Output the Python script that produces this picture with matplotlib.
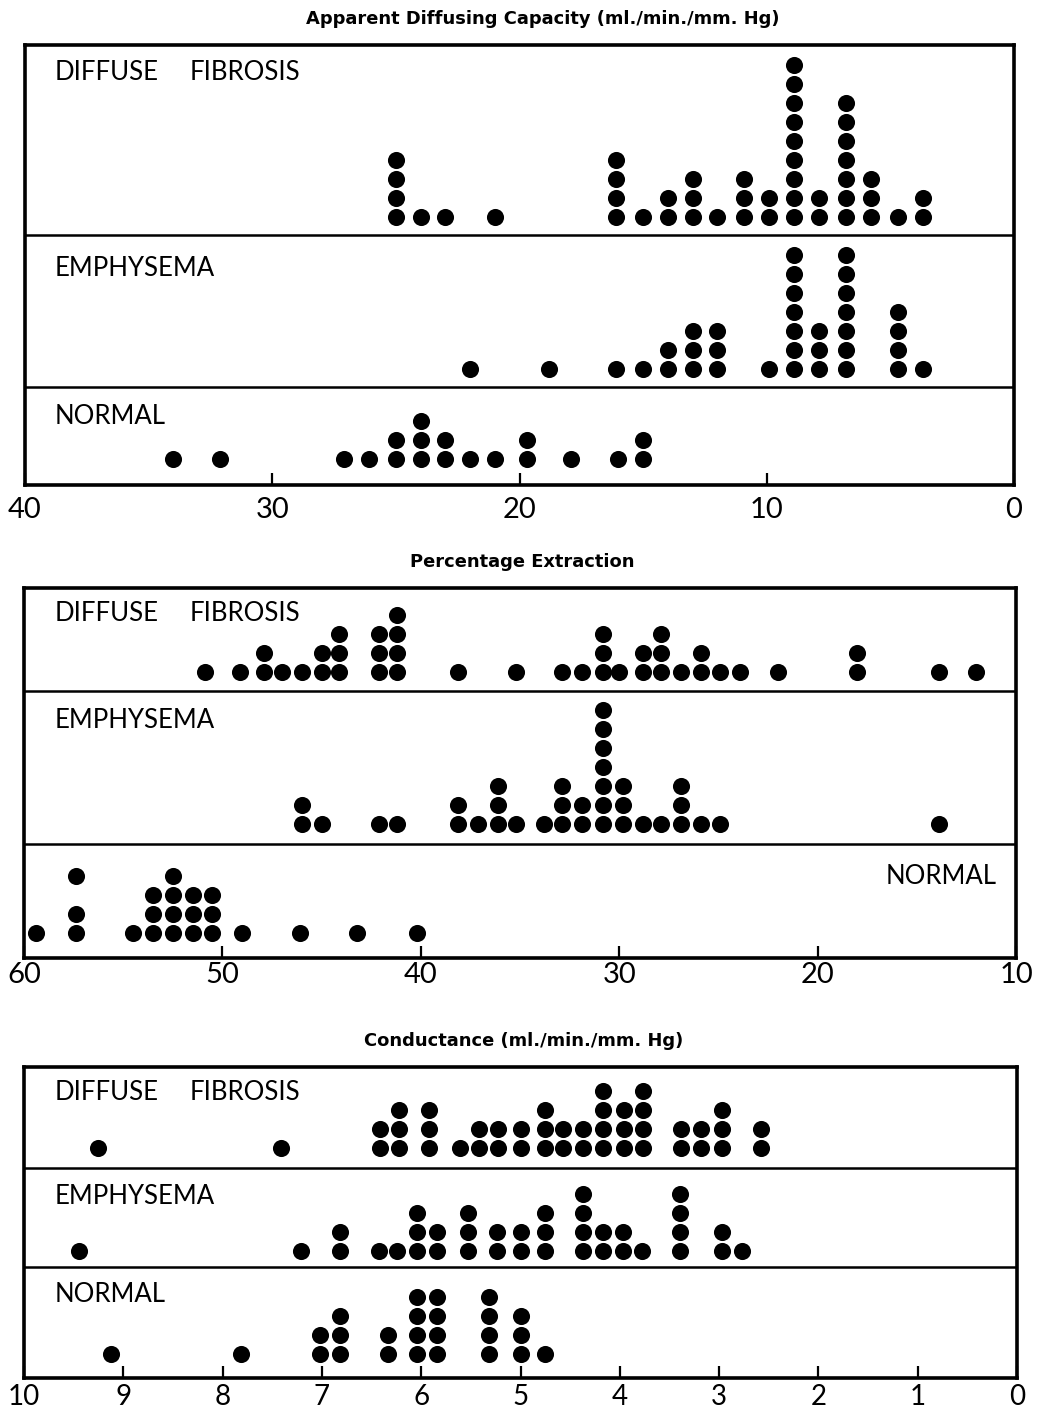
import matplotlib
matplotlib.use('Agg')
import matplotlib.pyplot as plt

# ---------------- DATA ----------------
# Panel 1: Apparent Diffusing Capacity (ml./min./mm. Hg)
DC_FIB_X = [25.0, 24.0, 23.0, 21.0, 16.1, 15.0, 14.0, 13.0, 12.0, 10.9, 9.9, 8.9, 7.9, 6.8, 5.8, 4.7, 3.7]
DC_FIB_N = [4, 1, 1, 1, 4, 1, 2, 3, 1, 3, 2, 9, 2, 7, 3, 1, 2]
DC_EMP_X = [22.0, 18.8, 16.1, 15.0, 14.0, 13.0, 12.0, 9.9, 8.9, 7.9, 6.8, 4.7, 3.7]
DC_EMP_N = [1, 1, 1, 1, 2, 3, 3, 1, 7, 3, 7, 4, 1]
DC_NOR_X = [34.0, 32.1, 27.1, 26.1, 25.0, 24.0, 23.0, 22.0, 21.0, 19.7, 17.9, 16.0, 15.0]
DC_NOR_N = [1, 1, 1, 1, 2, 3, 2, 1, 1, 2, 1, 1, 2]

# Panel 2: Percentage Extraction
PE_FIB_X = [50.9, 49.1, 47.9, 47.0, 46.0, 45.0, 44.1, 42.1, 41.2, 38.1, 35.2, 32.9, 31.9, 30.8,
            30.0, 28.8, 27.9, 26.9, 25.9, 24.9, 23.9, 22.0, 18.0, 13.9, 12.0]
PE_FIB_N = [1, 1, 2, 1, 1, 2, 3, 3, 4, 1, 1, 1, 1, 3, 1, 2, 3, 1, 2, 1, 1, 1, 2, 1, 1]
PE_EMP_X = [46.0, 45.0, 42.1, 41.2, 38.1, 37.1, 36.1, 35.2, 33.8, 32.9, 31.9, 30.8, 29.8, 28.8,
            27.9, 26.9, 25.9, 24.9, 13.9]
PE_EMP_N = [2, 1, 1, 1, 2, 1, 3, 1, 1, 3, 2, 7, 3, 1, 1, 3, 1, 1, 1]
PE_NOR_X = [59.4, 57.4, 54.5, 53.5, 52.5, 51.5, 50.5, 49.0, 46.1, 43.2, 40.2]
PE_NOR_N = [1, 3, 1, 3, 4, 3, 3, 1, 1, 1, 1]
PE_NOR_GAPS = [(57.4, 2)]  # (value, empty stack level)

# Panel 3: Conductance (ml./min./mm. Hg)
CO_FIB_X = [9.25, 7.41, 6.41, 6.22, 5.92, 5.61, 5.42, 5.23, 5.0, 4.75, 4.57, 4.37, 4.17, 3.96,
            3.77, 3.38, 3.18, 2.97, 2.58]
CO_FIB_N = [1, 1, 2, 3, 3, 1, 2, 2, 2, 3, 2, 2, 4, 3, 4, 2, 2, 3, 2]
CO_EMP_X = [9.45, 7.21, 6.82, 6.42, 6.24, 6.04, 5.84, 5.53, 5.24, 5.0, 4.75, 4.37, 4.17, 3.97,
            3.78, 3.39, 2.97, 2.77]
CO_EMP_N = [1, 1, 2, 1, 1, 3, 2, 3, 2, 2, 3, 4, 2, 2, 1, 4, 2, 1]
CO_NOR_X = [9.12, 7.81, 7.02, 6.82, 6.33, 6.04, 5.84, 5.32, 5.0, 4.75]
CO_NOR_N = [1, 1, 2, 3, 2, 4, 4, 4, 3, 1]

TITLES = ["Apparent Diffusing Capacity (ml./min./mm. Hg)",
          "Percentage Extraction",
          "Conductance (ml./min./mm. Hg)"]
GROUPS = ["DIFFUSE FIBROSIS", "EMPHYSEMA", "NORMAL"]
P1_TICKS = [40, 30, 20, 10, 0]
P2_TICKS = [60, 50, 40, 30, 20, 10]
P3_TICKS = [10, 9, 8, 7, 6, 5, 4, 3, 2, 1, 0]

# ---------------- LAYOUT ----------------
W, H = 1055, 1409
fig = plt.figure(figsize=(W / 100, H / 100), dpi=100)
fig.patch.set_facecolor('white')

LABEL_FONT = ['Lato', 'DejaVu Sans']
TITLE_FONT = ['DejaVu Sans']
STEP = 19.0          # vertical spacing of stacked dots (px)
DOT = 12.3           # dot diameter (pt)


def panel(left, right, top, bottom, xlim, ticks, dividers, pad, lsize):
    ax = fig.add_axes([left / W, 1 - bottom / H, (right - left) / W, (bottom - top) / H])
    ax.set_xlim(*xlim)
    ax.set_ylim(bottom, top)
    for s in ax.spines.values():
        s.set_linewidth(2.6)
    ax.set_yticks([])
    ax.set_xticks(ticks)
    ax.set_xticklabels([str(t) for t in ticks], family=LABEL_FONT)
    ax.tick_params(axis='x', direction='in', length=9, width=1.6, pad=pad, labelsize=lsize)
    for d in dividers:
        ax.axhline(d, color='black', lw=1.8)
    return ax


def dots(ax, xs, ns, base, gaps=()):
    px, py = [], []
    for v, n in zip(xs, ns):
        lvl, placed = 0, 0
        while placed < n:
            if (v, lvl) in gaps:
                lvl += 1
                continue
            px.append(v)
            py.append(base - lvl * STEP)
            lvl += 1
            placed += 1
    ax.scatter(px, py, s=DOT ** 2, c='black', linewidths=0, zorder=3, clip_on=False)


def label(text, y, x=55, ha='left'):
    words = text.split(' ')
    if len(words) == 2:
        fig.text(x / W, 1 - y / H, words[0], ha='left', va='center',
                 fontsize=18.5, family=LABEL_FONT, color='black')
        fig.text((x + 135) / W, 1 - y / H, words[1], ha='left', va='center',
                 fontsize=18.5, family=LABEL_FONT, color='black')
    else:
        fig.text(x / W, 1 - y / H, text, ha=ha, va='center',
                 fontsize=18.5, family=LABEL_FONT, color='black')


def title(text, x, y):
    fig.text(x / W, 1 - y / H, text, ha='center', va='center', fontsize=12.9,
             fontweight='bold', family=TITLE_FONT)


# Panel 1
ax1 = panel(25, 1014, 45, 485, (40, 0), P1_TICKS, [235, 387], 9, 21)
dots(ax1, DC_FIB_X, DC_FIB_N, 216.5)
dots(ax1, DC_EMP_X, DC_EMP_N, 369)
dots(ax1, DC_NOR_X, DC_NOR_N, 459)
label(GROUPS[0], 72)
label(GROUPS[1], 268)
label(GROUPS[2], 417)
title(TITLES[0], 543, 19)

# Panel 2
ax2 = panel(24, 1016, 588, 958, (60, 10), P2_TICKS, [691, 844], 3, 21)
dots(ax2, PE_FIB_X, PE_FIB_N, 671.7)
dots(ax2, PE_EMP_X, PE_EMP_N, 824.3)
dots(ax2, PE_NOR_X, PE_NOR_N, 933.3, gaps=PE_NOR_GAPS)
label(GROUPS[0], 614)
label(GROUPS[1], 720)
label(GROUPS[2], 877, x=997, ha='right')
title(TITLES[1], 522, 562)

# Panel 3
ax3 = panel(24, 1017, 1067, 1378, (10, 0), P3_TICKS, [1168, 1267], 4, 20)
dots(ax3, CO_FIB_X, CO_FIB_N, 1147.7)
dots(ax3, CO_EMP_X, CO_EMP_N, 1251)
dots(ax3, CO_NOR_X, CO_NOR_N, 1354.3)
label(GROUPS[0], 1093)
label(GROUPS[1], 1196)
label(GROUPS[2], 1295)
title(TITLES[2], 524, 1041)

fig.savefig('out.png', dpi=100, facecolor='white')
